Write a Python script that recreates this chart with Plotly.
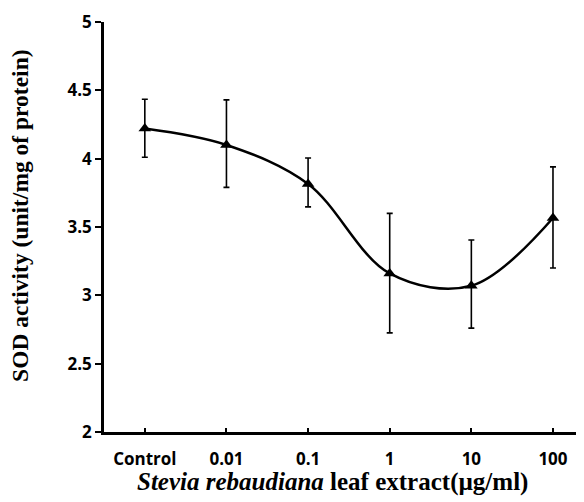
import plotly.graph_objects as go

categories = ["Control", "0.01", "0.1", "1", "10", "100"]
sod_mean = [4.22, 4.10, 3.815, 3.16, 3.07, 3.566]
err_upper = [4.435, 4.43, 4.005, 3.60, 3.405, 3.94]
err_lower = [4.01, 3.79, 3.647, 2.725, 2.76, 3.20]
y_ticks = [2, 2.5, 3, 3.5, 4, 4.5, 5]
y_tick_labels = ["2", "2.5", "3", "3.5", "4", "4.5", "5"]
x_title = "<i>Stevia rebaudiana</i> leaf extract(µg/ml)"
y_title = "SOD activity (unit/mg of protein)"

plus = [u - m for u, m in zip(err_upper, sod_mean)]
minus = [m - l for m, l in zip(sod_mean, err_lower)]

fig = go.Figure()
fig.add_trace(go.Scatter(
    x=list(range(len(categories))), y=sod_mean,
    mode="lines+markers",
    line=dict(color="black", width=2.5, shape="spline", smoothing=1.0),
    marker=dict(symbol="triangle-up", size=11, color="black"),
    error_y=dict(type="data", symmetric=False, array=plus, arrayminus=minus,
                 color="black", thickness=1.6, width=3),
    showlegend=False,
))

sans = "Open Sans"
serif = "Liberation Serif"

# page body has an 8px margin, compensate so the plot sits where the reference has it
fig.update_layout(
    width=576, height=494,
    margin=dict(l=96, r=0, t=14, b=70, autoexpand=False),
    paper_bgcolor="white", plot_bgcolor="white",
    xaxis=dict(
        range=[-0.5, 5.38],
        tickmode="array", tickvals=list(range(len(categories))), ticktext=categories,
        showline=True, linecolor="black", linewidth=2.5,
        ticks="inside", ticklen=4, tickwidth=2, tickcolor="black",
        ticklabelstandoff=10,
        showgrid=False, zeroline=False, automargin=False,
        tickfont=dict(family=sans, size=17, color="black", weight="bold"),
    ),
    yaxis=dict(
        range=[2, 5],
        tickmode="array", tickvals=y_ticks, ticktext=y_tick_labels,
        showline=True, linecolor="black", linewidth=2.5,
        ticks="outside", ticklen=6, tickwidth=2, tickcolor="black",
        showgrid=False, zeroline=False, automargin=False,
        tickfont=dict(family=sans, size=17, color="black", weight="bold"),
    ),
    annotations=[
        dict(text=x_title, xref="paper", yref="paper", x=0.477, y=0,
             yshift=-50, xanchor="center", yanchor="middle", showarrow=False,
             font=dict(family=serif, size=25, color="black", weight="bold")),
        dict(text=y_title, xref="paper", yref="paper", x=0, y=0.527,
             xshift=-84, xanchor="center", yanchor="middle", textangle=-90,
             showarrow=False,
             font=dict(family=serif, size=23.5, color="black", weight="bold")),
    ],
)

fig.write_html("out.html")
